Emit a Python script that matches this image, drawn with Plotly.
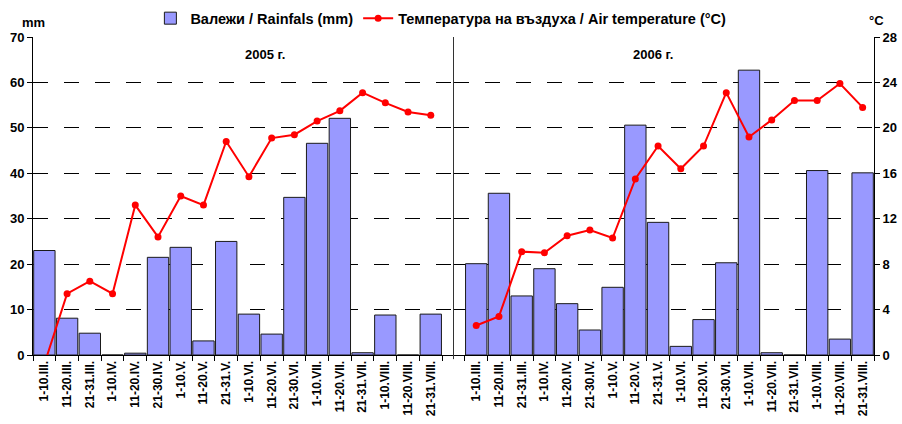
import plotly.graph_objects as go

periods = ["1-10.III.", "11-20.III.", "21-31.III.", "1-10.IV.", "11-20.IV.", "21-30.IV.",
           "1-10.V.", "11-20.V.", "21-31.V.", "1-10.VI.", "11-20.VI.", "21-30.VI.",
           "1-10.VII.", "11-20.VII.", "21-31.VII.", "1-10.VIII.", "11-20.VIII.", "21-31.VIII."]

rain_2005 = [23.0, 8.1, 4.8, 0.0, 0.4, 21.5, 23.7, 3.1, 25.0, 9.0, 4.6, 34.7,
             46.6, 52.1, 0.5, 8.8, 0.0, 9.0]
temp_2005 = [-0.8, 5.4, 6.5, 5.4, 13.2, 10.4, 14.0, 13.2, 18.8, 15.7, 19.1, 19.4,
             20.6, 21.5, 23.1, 22.2, 21.4, 21.1]

rain_2006 = [20.1, 35.6, 13.0, 19.0, 11.3, 5.5, 14.9, 50.6, 29.2, 1.9, 7.8, 20.3,
             62.7, 0.5, 0.0, 40.6, 3.5, 40.1]
temp_2006 = [2.6, 3.4, 9.1, 9.0, 10.5, 11.0, 10.3, 15.5, 18.4, 16.4, 18.4, 23.1,
             19.2, 20.7, 22.4, 22.4, 23.9, 21.8]

rain_ticks = [0, 10, 20, 30, 40, 50, 60, 70]
temp_ticks = [0, 4, 8, 12, 16, 20, 24, 28]

rain_name = "Валежи / Rainfals (mm)"
temp_name = "Температура на въздуха / Air temperature (°C)"
year_titles = ["2005 г.", "2006 г."]

BAR = "#9999FF"
BAR_EDGE = "#1a1a1a"
RED = "#FF0000"
FONT = "Liberation Sans, Arial, sans-serif"


def bold(size):
    return dict(size=size, family=FONT, color="black", weight="bold")


fig = go.Figure()
for i, (rain, xa) in enumerate([(rain_2005, "x"), (rain_2006, "x2")]):
    fig.add_trace(go.Bar(
        x=periods, y=rain, xaxis=xa, yaxis="y", name=rain_name,
        marker=dict(color=BAR, line=dict(color=BAR_EDGE, width=1)),
        showlegend=(i == 0), legendgroup="rain"))
for i, (temp, xa) in enumerate([(temp_2005, "x"), (temp_2006, "x2")]):
    fig.add_trace(go.Scatter(
        x=periods, y=temp, xaxis=xa, yaxis="y2", name=temp_name,
        mode="lines+markers",
        line=dict(color=RED, width=2),
        marker=dict(color=RED, size=7),
        showlegend=(i == 0), legendgroup="temp"))

xcommon = dict(type="category", tickson="boundaries", ticks="outside", ticklen=5,
               tickcolor="black", showline=True, linecolor="black", linewidth=1,
               tickangle=-90, tickfont=bold(12), automargin=False,
               showgrid=False, zeroline=False, anchor="y", fixedrange=True)

fig.update_layout(
    width=902, height=424,
    margin=dict(l=33, r=28, t=37, b=69, autoexpand=False),
    paper_bgcolor="white", plot_bgcolor="white",
    font=bold(12),
    bargap=0.06,
    xaxis=dict(domain=[0, 0.5], range=[-0.5, 18.0], **xcommon),
    xaxis2=dict(domain=[0.5, 1], range=[-1.0, 17.5], **xcommon),
    yaxis=dict(range=[0, 70], tickvals=rain_ticks, showgrid=True, gridcolor="black",
               gridwidth=1, griddash="15px,16px", showline=True, linecolor="black",
               ticks="outside", ticklen=5, tickcolor="black", anchor="x", zeroline=False,
               tickfont=bold(13), automargin=False),
    yaxis2=dict(range=[0, 28], tickvals=temp_ticks, overlaying="y", side="right",
                anchor="x2", showgrid=False, showline=True, linecolor="black",
                ticks="outside", ticklen=5, tickcolor="black", zeroline=False,
                tickfont=bold(13), automargin=False),
    legend=dict(orientation="h", x=0.485, xanchor="center", y=1.059, yanchor="middle",
                font=bold(14.5), bgcolor="rgba(0,0,0,0)", itemwidth=30, tracegroupgap=0),
    showlegend=True,
)

fig.add_shape(type="line", xref="paper", yref="paper", x0=0.5, x1=0.5, y0=-0.013, y1=1,
              line=dict(color="#333333", width=1))

fig.add_annotation(text="mm", xref="paper", yref="paper", x=0.0, xanchor="center",
                   y=1.046, yanchor="middle", showarrow=False, font=bold(13))
fig.add_annotation(text="°C", xref="paper", yref="paper", x=1.0025, xanchor="center",
                   y=1.052, yanchor="middle", showarrow=False, font=bold(13))
fig.add_annotation(text=year_titles[0], xref="paper", yref="paper", x=0.25, y=1.0,
                   yanchor="middle", yshift=-17, showarrow=False, font=bold(13))
fig.add_annotation(text=year_titles[1], xref="paper", yref="paper", x=0.763, y=1.0,
                   yanchor="middle", yshift=-17, showarrow=False, font=bold(13))

fig.write_html("out.html", config={"displayModeBar": False},
               post_script="document.body.style.margin='0';document.body.style.overflow='hidden';")
